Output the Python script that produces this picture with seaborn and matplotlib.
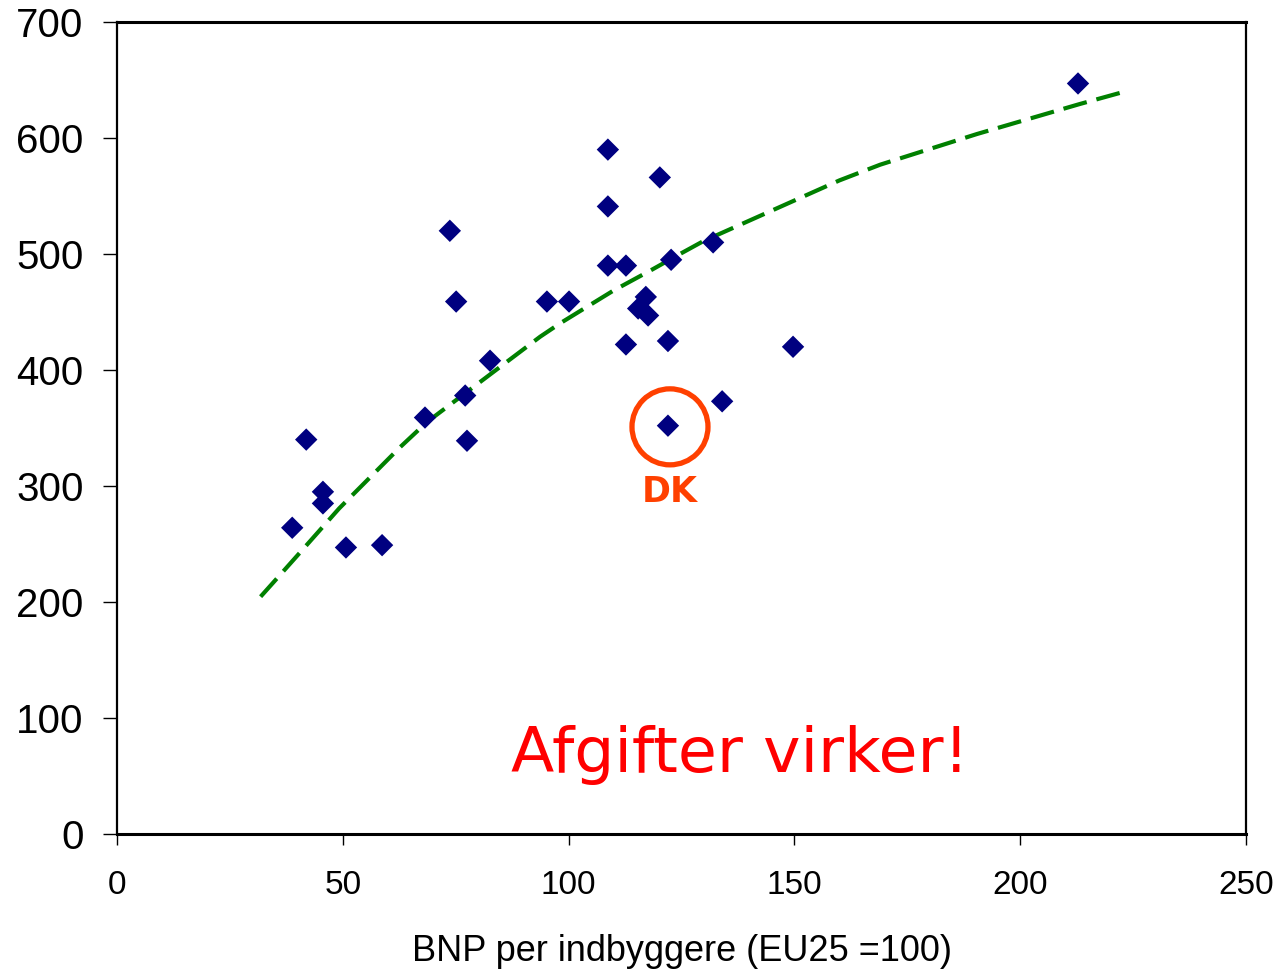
import numpy as np
import matplotlib
matplotlib.use("Agg")
import matplotlib.pyplot as plt
import seaborn as sns
from matplotlib.patches import Ellipse

# BNP per indbygger (EU25 = 100) vs. the y value per country
bnp = [38.8, 41.9, 45.6, 45.6, 50.7, 58.7, 68.2, 73.7, 75.1, 77.1, 77.5, 82.6,
       95.2, 100.1, 108.7, 108.7, 108.7, 112.7, 112.7, 115.4, 117.1, 117.6,
       120.2, 122.0, 122.7, 132.0, 134.0, 122.0, 149.7, 212.8]
vaerdi = [264, 340, 295, 285, 247, 249, 359, 520, 459, 378, 339, 408,
          459, 459, 590, 541, 490, 490, 422, 453, 463, 447,
          566, 425, 495, 510, 373, 352, 420, 647]
dk_x, dk_y = 122.45, 351

# trendline
trend_x = [31.8, 36.1, 40.7, 49.2, 62.7, 68.6, 93.7, 98.1, 109.9, 118.6,
           124.7, 129.8, 160, 169, 190.4, 213.2, 223.6]
trend_y = [204.6, 223.3, 243.4, 280.7, 333.5, 355, 428.7, 440.2, 468.4, 486.8,
           500.1, 511, 563.5, 577, 603.4, 629.3, 640.5]

sns.set_style("white")
plt.rcParams['font.family'] = ['Liberation Sans', 'DejaVu Sans']
plt.rcParams['text.color'] = 'black'
plt.rcParams['xtick.color'] = 'black'
plt.rcParams['ytick.color'] = 'black'
plt.rcParams['axes.labelcolor'] = 'black'

fig = plt.figure(figsize=(12.78, 9.69), dpi=100)
ax = fig.add_axes([117/1278, 1 - 834/969, (1246 - 117)/1278, (834 - 22)/969])

sns.scatterplot(x=bnp, y=vaerdi, marker="D", s=130, color="#000080",
                edgecolor="none", ax=ax, zorder=3)

sns.lineplot(x=trend_x, y=trend_y, color="#008000", lw=3, sort=False,
             ax=ax, zorder=2)
ax.lines[-1].set_dashes([5.8, 2.4])

# circle around DK
sx = 4.516  # px per x unit
sy = 1.16   # px per y unit
ax.add_patch(Ellipse((dk_x, dk_y), 76/sx, 76/sy, fill=False,
                     edgecolor="#FF4000", lw=3.8, zorder=4))
ax.text(dk_x, 295, "DK", color="#FF4000", fontsize=25, fontweight="bold",
        family="DejaVu Sans", ha="center", va="center")

ax.text(138, 68, "Afgifter virker!", color="#FF0000", fontsize=45.5,
        family="DejaVu Sans", ha="center", va="center")

ax.set_xlim(0, 250)
ax.set_ylim(0, 700)
ax.set_xticks([0, 50, 100, 150, 200, 250])
ax.set_yticks([0, 100, 200, 300, 400, 500, 600, 700])
ax.tick_params(axis="y", labelsize=29, length=10, width=1, pad=14, left=True, direction="out")
ax.tick_params(axis="x", labelsize=24, length=8, width=1, pad=18, bottom=True, direction="out")
ax.set_xlabel("BNP per indbyggere (EU25 =100)", fontsize=26, labelpad=24)
for s in ax.spines.values():
    s.set_color("black")
    s.set_linewidth(1.6)
ax.spines["top"].set_linewidth(2.2)
ax.spines["bottom"].set_linewidth(2.2)

fig.savefig("out.png", dpi=100, facecolor="white")
